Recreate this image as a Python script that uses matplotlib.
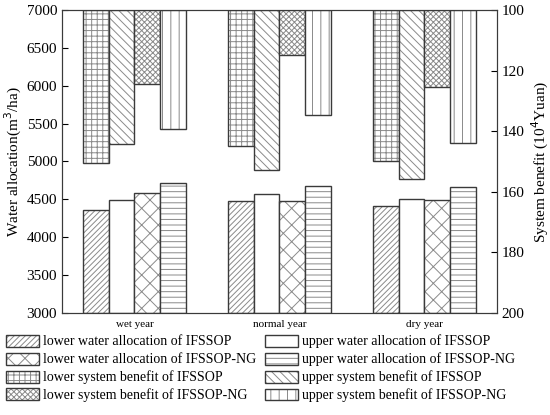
import numpy as np
import matplotlib
matplotlib.use("Agg")
import matplotlib.pyplot as plt

plt.rcParams['font.family'] = ['Liberation Serif', 'DejaVu Serif']
plt.rcParams['hatch.linewidth'] = 0.7

years = ['wet year', 'normal year', 'dry year']

# water allocation (m3/ha)
lower_water_ifssop = [4356, 4480, 4412]
upper_water_ifssop = [4485, 4566, 4509]
lower_water_ng = [4582, 4480, 4493]
upper_water_ng = [4720, 4677, 4660]

# system benefit (10^4 Yuan)
lower_benefit_ifssop = [150.6, 144.8, 149.9]
upper_benefit_ifssop = [144.2, 152.9, 155.9]
lower_benefit_ng = [124.4, 114.9, 125.5]
upper_benefit_ng = [139.4, 134.8, 144.0]

hatch_col = '#8a8a8a'
edge_col = '#3a3a3a'

fig = plt.figure(figsize=(5.5, 4.15), dpi=100)
ax = fig.add_axes([0.1127, 0.2458, 0.7909, 0.7302])
ax2 = ax.twinx()

x = np.arange(len(years))
w = 0.176
offs = np.array([-1.5, -0.5, 0.5, 1.5]) * w


def hbar(a, xs, vals, bottom, hatch):
    # hatched fill with light lines, then dark outline on top
    vals = np.asarray(vals)
    h1 = a.bar(xs, vals - bottom, w, bottom=bottom, color='white',
               edgecolor=hatch_col, linewidth=0, hatch=hatch)
    h2 = a.bar(xs, vals - bottom, w, bottom=bottom, fill=False,
               edgecolor=edge_col, linewidth=1.0)
    return (h1, h2)


lw1 = hbar(ax, x + offs[0], lower_water_ifssop, 3000, '//////')
uw1 = hbar(ax, x + offs[1], upper_water_ifssop, 3000, '')
lw2 = hbar(ax, x + offs[2], lower_water_ng, 3000, 'xx')
uw2 = hbar(ax, x + offs[3], upper_water_ng, 3000, '---')

lb1 = hbar(ax2, x + offs[0], lower_benefit_ifssop, 100, '+++')
ub1 = hbar(ax2, x + offs[1], upper_benefit_ifssop, 100, '\\\\\\\\')
lb2 = hbar(ax2, x + offs[2], lower_benefit_ng, 100, 'xxxxxx')
ub2 = hbar(ax2, x + offs[3], upper_benefit_ng, 100, '||')

ax.set_xlim(-0.5, 2.5)
ax.set_ylim(3000, 7000)
ax.set_yticks(np.arange(3000, 7001, 500))
ax2.set_ylim(200, 100)
ax2.set_yticks(np.arange(100, 201, 20))

ax.set_xticks(x)
ax.set_xticklabels(years, fontsize=8)
ax.tick_params(axis='x', length=0, pad=5)
ax.tick_params(axis='y', direction='in', labelsize=11, length=4)
ax2.tick_params(axis='y', direction='in', labelsize=11, length=4)

ax.set_ylabel('Water allocation(m$^3$/ha)', fontsize=11, labelpad=2)
ax2.set_ylabel('System benefit (10$^4$Yuan)', fontsize=11, labelpad=4)

for a in (ax, ax2):
    for s in a.spines.values():
        s.set_color(edge_col)

handles = [lw1, lw2, lb1, lb2, uw1, uw2, ub1, ub2]
handles = [(h1[0], h2[0]) for h1, h2 in handles]
labels = ['lower water allocation of IFSSOP',
          'lower water allocation of IFSSOP-NG',
          'lower system benefit of IFSSOP',
          'lower system benefit of IFSSOP-NG',
          'upper water allocation of IFSSOP',
          'upper water allocation of IFSSOP-NG',
          'upper system benefit of IFSSOP',
          'upper system benefit of IFSSOP-NG']
fig.legend(handles, labels, ncol=2, loc='upper left',
           bbox_to_anchor=(0.0, 0.207), frameon=False, fontsize=10,
           handlelength=2.4, handleheight=0.95, handletextpad=0.3,
           columnspacing=0.6, labelspacing=0.3, borderaxespad=0.0,
           borderpad=0.4)

fig.savefig('out.png', dpi=100)
